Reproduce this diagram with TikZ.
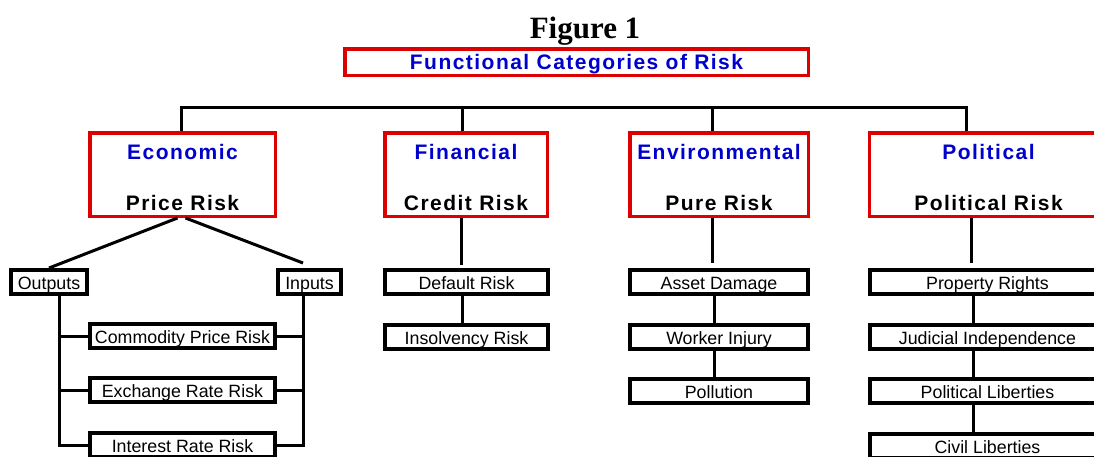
\documentclass[tikz,border=0pt]{standalone}
\usepackage{fontspec}
\setmainfont{Liberation Sans}
\newfontfamily\titlefont{Liberation Serif}
\newfontfamily\headfont[LetterSpace=7]{Liberation Sans}
\usepackage{tikz}

\definecolor{boxred}{RGB}{221,0,0}
\definecolor{headblue}{RGB}{0,0,204}

\begin{document}
\begin{tikzpicture}[x=1pt, y=-1pt,
    catbox/.style={draw=boxred, line width=3.5pt, minimum height=83.5pt, inner sep=0pt},
    cathead/.style={anchor=base, text=headblue, font=\headfont\bfseries\fontsize{21}{25}\selectfont},
    catsub/.style={anchor=base, font=\headfont\bfseries\fontsize{21}{25}\selectfont},
    subbox/.style={draw, line width=3.8pt, minimum height=24.2pt, inner sep=0pt,
        text height=15pt, text depth=0pt, font=\fontsize{17.8}{21}\selectfont},
    link/.style={line width=3pt}]

            \useasboundingbox (0,0) rectangle (1094,456);

            % heading
            \node[anchor=base, font=\titlefont\bfseries\fontsize{31}{36}\selectfont] (fig) at (585,38) {Figure 1};
            \node[draw=boxred, line width=3.5pt, minimum width=463.5pt, minimum height=26.5pt, inner sep=0pt,
                text height=15.5pt, text depth=0pt, text=headblue,
                font=\headfont\bfseries\fontsize{21}{25}\selectfont] (top) at (576.5,62) {Functional Categories of Risk};

            % the four categories
            \node[catbox, minimum width=185.5pt] (econ) at (182.5,174.5) {};
            \node[catbox, minimum width=162.5pt] (fin) at (466,174.5) {};
            \node[catbox, minimum width=178.5pt] (env) at (719,174.5) {};
            \node[catbox, minimum width=238.5pt] (pol) at (988.5,174.5) {};

            \node[cathead] (econ-h) at ([yshift=-28pt]econ.north) {Economic};
            \node[catsub] (econ-s) at ([yshift=8pt]econ.south) {Price Risk};
            \node[cathead] (fin-h) at ([yshift=-28pt]fin.north) {Financial};
            \node[catsub] (fin-s) at ([yshift=8pt]fin.south) {Credit Risk};
            \node[cathead] (env-h) at ([yshift=-28pt]env.north) {Environmental};
            \node[catsub] (env-s) at ([yshift=8pt]env.south) {Pure Risk};
            \node[cathead] (pol-h) at ([yshift=-28pt]pol.north) {Political};
            \node[catsub] (pol-s) at ([yshift=8pt]pol.south) {Political Risk};

            % bus above the categories
            \coordinate (b1) at (181,107);
            \coordinate (b2) at (462,107);
            \coordinate (b3) at (712,107);
            \coordinate (b4) at (966,107);
            \draw[link] (econ.north -| b1) -- (b1) -- (b4) -- (pol.north -| b4);
            \draw[link] (b2) -- (fin.north -| b2);
            \draw[link] (b3) -- (env.north -| b3);

            % economic
            \node[subbox, minimum width=76.2pt] (outp) at (49,282) {Outputs};
            \node[subbox, minimum width=63.2pt] (inp) at (309.5,282) {Inputs};
            \node[subbox, minimum width=185.2pt] (comm) at (182.5,336) {Commodity Price Risk};
            \node[subbox, minimum width=185.2pt] (exch) at (182.5,390) {Exchange Rate Risk};
            \node[subbox, minimum width=185.2pt] (intr) at (182.5,445) {Interest Rate Risk};

            \coordinate (lbus) at (59,0);
            \coordinate (rbus) at (303,0);
            \draw[link] ([xshift=-5pt]econ.south) -- (outp.north);
            \draw[link] ([xshift=3pt]econ.south) -- ([yshift=5pt]inp.north -| rbus);
            \draw[link] (outp.south -| lbus) -- (intr.west -| lbus) -- (intr.west);
            \draw[link] (inp.south -| rbus) -- (intr.east -| rbus) -- (intr.east);
            \draw[link] (comm.west -| lbus) -- (comm.west);
            \draw[link] (exch.west -| lbus) -- (exch.west);
            \draw[link] (comm.east) -- (comm.east -| rbus);
            \draw[link] (exch.east) -- (exch.east -| rbus);

            % financial
            \node[subbox, minimum width=163.2pt] (dflt) at (466.5,282) {Default Risk};
            \node[subbox, minimum width=163.2pt] (insv) at (466.5,337) {Insolvency Risk};
            \draw[link] ([xshift=-5pt]fin.south) -- ([xshift=-5.5pt,yshift=3pt]dflt.north);
            \draw[link] ([xshift=-4.5pt]dflt.south) -- ([xshift=-4.5pt]insv.north);

            % environmental
            \node[subbox, minimum width=178.2pt] (asst) at (719,282) {Asset Damage};
            \node[subbox, minimum width=178.2pt] (wrkr) at (719,337) {Worker Injury};
            \node[subbox, minimum width=178.2pt] (poll) at (719,391) {Pollution};
            \draw[link] ([xshift=-7pt]env.south) -- ([xshift=-7pt,yshift=5pt]asst.north);
            \draw[link] ([xshift=-5pt]asst.south) -- ([xshift=-5pt]wrkr.north);
            \draw[link] ([xshift=-5pt]wrkr.south) -- ([xshift=-5pt]poll.north);

            % political
            \node[subbox, minimum width=235.2pt] (prop) at (987.5,282) {Property Rights};
            \node[subbox, minimum width=235.2pt] (judi) at (987.5,337) {Judicial Independence};
            \node[subbox, minimum width=235.2pt] (plib) at (987.5,391) {Political Liberties};
            \node[subbox, minimum width=235.2pt] (clib) at (987.5,446) {Civil Liberties};
            \draw[link] ([xshift=-17.5pt]pol.south) -- ([xshift=-16.5pt,yshift=5pt]prop.north);
            \draw[link] ([xshift=-14.5pt]prop.south) -- ([xshift=-14.5pt]judi.north);
            \draw[link] ([xshift=-14.5pt]judi.south) -- ([xshift=-14.5pt]plib.north);
            \draw[link] ([xshift=-14.5pt]plib.south) -- ([xshift=-14.5pt]clib.north);

          \end{tikzpicture}
\end{document}
